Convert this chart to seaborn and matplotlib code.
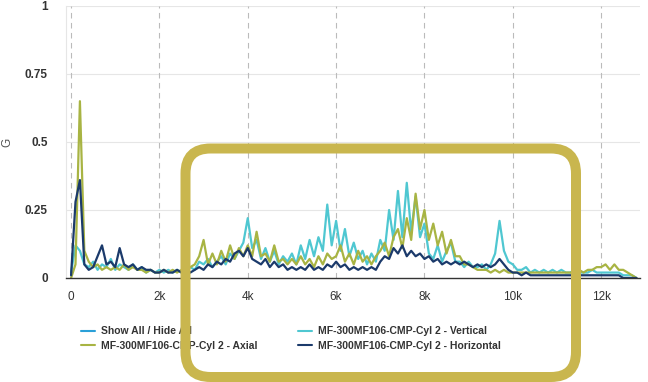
import numpy as np
import pandas as pd
import matplotlib
matplotlib.use("Agg")
import matplotlib.pyplot as plt
import seaborn as sns
from matplotlib.lines import Line2D
from matplotlib.patches import FancyBboxPatch
from matplotlib.transforms import IdentityTransform

# frequency bins (Hz), 100 Hz apart
freq = np.arange(0, 12900, 100)

vertical = [
    0.02, 0.12, 0.10, 0.05, 0.04, 0.06, 0.03, 0.05, 0.04, 0.07,
    0.03, 0.05, 0.04, 0.03, 0.05, 0.03, 0.04, 0.02, 0.03, 0.02,
    0.03, 0.02, 0.03, 0.02, 0.03, 0.02, 0.03, 0.04, 0.03, 0.06,
    0.05, 0.07, 0.04, 0.06, 0.08, 0.05, 0.09, 0.07, 0.10, 0.13,
    0.22, 0.11, 0.14, 0.07, 0.11, 0.06, 0.10, 0.05, 0.08, 0.06,
    0.09, 0.05, 0.12, 0.07, 0.14, 0.08, 0.15, 0.10, 0.27, 0.12,
    0.21, 0.10, 0.18, 0.08, 0.13, 0.07, 0.10, 0.05, 0.09, 0.06,
    0.14, 0.10, 0.25, 0.14, 0.32, 0.15, 0.35, 0.17, 0.30, 0.15,
    0.20, 0.09, 0.07, 0.12, 0.06, 0.10, 0.13, 0.06, 0.06, 0.04,
    0.06, 0.04, 0.04, 0.05, 0.03, 0.05, 0.09, 0.21, 0.10, 0.06,
    0.05, 0.03, 0.03, 0.04, 0.02, 0.03, 0.02, 0.03, 0.02, 0.03,
    0.02, 0.03, 0.02, 0.02, 0.03, 0.02, 0.02, 0.02, 0.03, 0.02,
    0.02, 0.02, 0.02, 0.02, 0.02, 0.01, 0.01, 0.01, 0.00,
]

axial = [
    0.00, 0.05, 0.65, 0.10, 0.06, 0.04, 0.05, 0.03, 0.04, 0.03,
    0.04, 0.03, 0.05, 0.03, 0.04, 0.03, 0.03, 0.02, 0.03, 0.02,
    0.02, 0.03, 0.02, 0.03, 0.02, 0.03, 0.03, 0.04, 0.05, 0.08,
    0.14, 0.05, 0.09, 0.05, 0.10, 0.06, 0.12, 0.07, 0.11, 0.08,
    0.12, 0.08, 0.17, 0.08, 0.09, 0.06, 0.12, 0.06, 0.07, 0.05,
    0.07, 0.05, 0.08, 0.05, 0.07, 0.04, 0.08, 0.05, 0.09, 0.07,
    0.08, 0.12, 0.06, 0.09, 0.05, 0.10, 0.06, 0.08, 0.05, 0.08,
    0.10, 0.13, 0.08, 0.15, 0.18, 0.11, 0.22, 0.14, 0.31, 0.18,
    0.25, 0.14, 0.20, 0.12, 0.17, 0.09, 0.14, 0.08, 0.08, 0.05,
    0.05, 0.04, 0.03, 0.03, 0.03, 0.02, 0.03, 0.02, 0.03, 0.02,
    0.02, 0.02, 0.02, 0.02, 0.02, 0.02, 0.02, 0.02, 0.02, 0.02,
    0.02, 0.02, 0.02, 0.02, 0.02, 0.03, 0.02, 0.03, 0.03, 0.04,
    0.04, 0.05, 0.03, 0.05, 0.03, 0.03, 0.02, 0.01, 0.00,
]

horizontal = [
    0.01, 0.28, 0.36, 0.05, 0.03, 0.04, 0.08, 0.12, 0.05, 0.06,
    0.04, 0.11, 0.05, 0.04, 0.05, 0.03, 0.04, 0.03, 0.03, 0.02,
    0.02, 0.03, 0.02, 0.02, 0.03, 0.02, 0.03, 0.02, 0.03, 0.04,
    0.03, 0.05, 0.04, 0.06, 0.05, 0.07, 0.06, 0.09, 0.10, 0.08,
    0.11, 0.07, 0.06, 0.05, 0.07, 0.04, 0.06, 0.04, 0.05, 0.03,
    0.04, 0.03, 0.04, 0.03, 0.05, 0.03, 0.04, 0.03, 0.05, 0.04,
    0.06, 0.04, 0.05, 0.03, 0.04, 0.03, 0.04, 0.03, 0.04, 0.03,
    0.06, 0.08, 0.07, 0.11, 0.09, 0.12, 0.08, 0.10, 0.08, 0.09,
    0.07, 0.08, 0.06, 0.07, 0.05, 0.06, 0.05, 0.06, 0.05, 0.06,
    0.05, 0.04, 0.05, 0.04, 0.05, 0.04, 0.05, 0.07, 0.05, 0.03,
    0.02, 0.02, 0.01, 0.02, 0.01, 0.01, 0.01, 0.01, 0.01, 0.01,
    0.01, 0.01, 0.01, 0.01, 0.01, 0.01, 0.01, 0.01, 0.01, 0.01,
    0.01, 0.01, 0.01, 0.01, 0.01, 0.00, 0.00, 0.00, 0.00,
]

series_names = [
    "MF-300MF106-CMP-Cyl 2 - Vertical",
    "MF-300MF106-CMP-Cyl 2 - Axial",
    "MF-300MF106-CMP-Cyl 2 - Horizontal",
]
colors = ["#4fc7d1", "#a8b443", "#1b3a6b"]
x_ticks = [0, 2000, 4000, 6000, 8000, 10000, 12000]
x_labels = ["0", "2k", "4k", "6k", "8k", "10k", "12k"]
y_ticks = [0, 0.25, 0.5, 0.75, 1]
y_labels = ["0", "0.25", "0.5", "0.75", "1"]

df = pd.concat([
    pd.DataFrame({"freq": freq, "G": vals, "series": name})
    for name, vals in zip(series_names, [vertical, axial, horizontal])
])

sns.set_style("white")
plt.rcParams["font.family"] = ["Liberation Sans", "DejaVu Sans"]

fig = plt.figure(figsize=(6.48, 3.82), dpi=100)
ax = fig.add_axes([66 / 648, 1 - 278 / 382, (640 - 66) / 648, (278 - 6) / 382])

sns.lineplot(data=df, x="freq", y="G", hue="series", hue_order=series_names,
             palette=colors, linewidth=1.6, ax=ax, legend=False)

ax.set_xlim(-115, 12880)
ax.set_ylim(0, 1)
ax.set_xticks(x_ticks)
ax.set_xticklabels(x_labels, fontsize=8.5, color="#333333")
ax.set_yticks(y_ticks)
ax.set_yticklabels(y_labels, fontsize=8.5, color="#333333", fontweight="bold")
ax.set_xlabel("")
ax.set_ylabel("G", fontsize=8.5, color="#555555")
ax.yaxis.set_label_coords((13 - 66) / 574, 0.5)

ax.grid(False)
for y in y_ticks[1:]:
    ax.axhline(y, color="#e6e6e6", linewidth=0.8, zorder=0)
for x in x_ticks:
    ax.axvline(x, color="#bbbbbb", linewidth=0.8, linestyle=(0, (5, 4)), zorder=0)

for side in ["top", "right"]:
    ax.spines[side].set_visible(False)
ax.spines["left"].set_color("#e6e6e6")
ax.spines["bottom"].set_color("#333333")
ax.spines["bottom"].set_linewidth(1.0)
ax.tick_params(axis="x", length=6, width=0.8, color="#999999", pad=3)
ax.tick_params(axis="y", length=0, pad=13)

handles = [
    Line2D([], [], color="#2aa0d8", linewidth=1.5),
    Line2D([], [], color=colors[1], linewidth=1.5),
    Line2D([], [], color=colors[0], linewidth=1.5),
    Line2D([], [], color=colors[2], linewidth=1.5),
]
labels = ["Show All / Hide All", series_names[1], series_names[0], series_names[2]]
fig.legend(handles, labels, ncol=2, loc="upper left", bbox_to_anchor=(73 / 648, 1 - 318 / 382),
           frameon=False, prop={"size": 7.5, "weight": "bold"}, labelcolor="#333333",
           handlelength=1.3, handletextpad=0.6, columnspacing=3.9, labelspacing=0.45,
           borderpad=0.3)

# highlight box drawn over the figure (pixel coordinates)
box = FancyBboxPatch((185.5, 5), 390.5, 228.5, boxstyle="round,pad=0,rounding_size=25",
                     transform=IdentityTransform(), facecolor="none", edgecolor="#c9b64e",
                     linewidth=7.2, zorder=10, clip_on=False)
fig.add_artist(box)

fig.savefig("out.png", dpi=100)
